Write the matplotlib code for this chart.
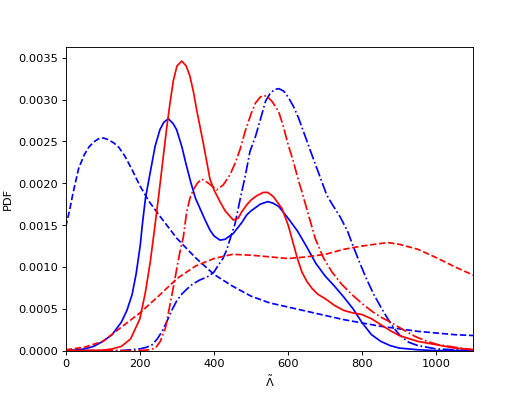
import numpy as np
import matplotlib.pyplot as plt

# blue solid
x_bs = [0, 25, 50, 75, 100, 125, 150, 165, 179, 190, 201, 207, 215, 225, 241, 254, 265, 277, 290, 299,
        313, 325, 338, 350, 362, 375, 389, 400, 416, 430, 452, 475, 488, 500, 525, 545, 560, 575, 600,
        625, 650, 675, 700, 725, 750, 775, 800, 825, 850, 875, 900, 950, 1000, 1100]
y_bs = [0.0, 0.000005, 0.00002, 0.00005, 0.00011, 0.00019, 0.00034, 0.00048, 0.00067, 0.00092, 0.00126,
        0.00152, 0.00182, 0.00206, 0.00244, 0.00264, 0.00273, 0.00277, 0.00271, 0.00264, 0.00244,
        0.00222, 0.00200, 0.00182, 0.00170, 0.00157, 0.00144, 0.00137, 0.00132, 0.00133, 0.00140,
        0.00153, 0.00162, 0.00167, 0.00175, 0.00178, 0.00176, 0.00172, 0.00158, 0.00143, 0.00124,
        0.00104, 0.00089, 0.00077, 0.00064, 0.00050, 0.00033, 0.00019, 0.00011, 0.00006, 0.00003,
        0.00001, 0.0, 0.0]

# blue dashed
x_bd = [0, 10, 20, 35, 50, 62, 75, 88, 102, 115, 130, 143, 160, 179, 200, 225, 255, 300, 350, 400, 450,
        500, 550, 600, 650, 700, 750, 800, 850, 900, 950, 1000, 1050, 1100]
y_bd = [0.00148, 0.00167, 0.00189, 0.00218, 0.00234, 0.00243, 0.00249, 0.00253, 0.00254, 0.00252,
        0.00248, 0.00243, 0.00232, 0.00216, 0.00197, 0.00178, 0.00160, 0.00134, 0.00111, 0.00091,
        0.00077, 0.00065, 0.00057, 0.00052, 0.00047, 0.00042, 0.00037, 0.00033, 0.00029, 0.00026,
        0.00023, 0.00021, 0.00019, 0.00018]

# blue dash-dot
x_bdd = [0, 150, 200, 218, 233, 247, 260, 273, 287, 300, 314, 328, 341, 360, 386, 400, 413, 424, 434,
         446, 457, 470, 484, 497, 512, 525, 539, 551, 563, 575, 588, 600, 614, 628, 646, 664, 684, 704,
         720, 740, 760, 776, 794, 810, 830, 850, 866, 885, 902, 925, 950, 1000, 1100]
y_bdd = [0.0, 0.0, 0.00002, 0.00004, 0.00007, 0.00014, 0.00023, 0.00035, 0.00049, 0.00060, 0.00068,
         0.00074, 0.00079, 0.00084, 0.00089, 0.00094, 0.00103, 0.00110, 0.00120, 0.00137, 0.00152,
         0.00180, 0.00208, 0.00238, 0.00256, 0.00276, 0.00298, 0.00307, 0.00312, 0.00313, 0.00310,
         0.00303, 0.00292, 0.00278, 0.00256, 0.00234, 0.00210, 0.00186, 0.00174, 0.00160, 0.00143,
         0.00124, 0.00104, 0.00087, 0.00068, 0.00052, 0.00040, 0.00027, 0.00018, 0.00010, 0.00006,
         0.00002, 0.0]

# red solid
x_rs = [0, 50, 100, 125, 150, 175, 200, 215, 228, 240, 251, 260, 272, 281, 290, 300, 313, 325, 335,
        345, 353, 362, 371, 389, 400, 416, 430, 452, 465, 475, 488, 500, 515, 533, 545, 560, 583, 600,
        610, 625, 637, 650, 665, 681, 700, 725, 750, 775, 800, 825, 850, 875, 900, 950, 1000, 1050, 1100]
y_rs = [0.0, 0.0, 0.000005, 0.00002, 0.00005, 0.00014, 0.00038, 0.00070, 0.00106, 0.00147, 0.00186,
        0.00220, 0.00265, 0.00295, 0.00322, 0.00340, 0.00346, 0.00340, 0.00328, 0.00308, 0.00288,
        0.00268, 0.00248, 0.00205, 0.00192, 0.00178, 0.00167, 0.00156, 0.00158, 0.00166, 0.00174,
        0.00180, 0.00185, 0.00189, 0.00189, 0.00184, 0.00170, 0.00150, 0.00134, 0.00110, 0.00094,
        0.00083, 0.00074, 0.00067, 0.00062, 0.00054, 0.00048, 0.00045, 0.00043, 0.00038, 0.00031,
        0.00024, 0.00018, 0.00011, 0.00007, 0.00003, 0.00001]

# red dashed
x_rd = [0, 50, 100, 150, 200, 250, 300, 350, 400, 450, 500, 550, 600, 650, 700, 750, 800, 850, 870,
        900, 950, 1000, 1050, 1100]
y_rd = [0.00001, 0.00004, 0.00011, 0.00028, 0.00045, 0.00065, 0.00086, 0.00101, 0.00110, 0.00115,
        0.00114, 0.00112, 0.00110, 0.00112, 0.00115, 0.00121, 0.00125, 0.00128, 0.00129, 0.00127,
        0.00121, 0.00111, 0.00100, 0.00090]

# red dash-dot
x_rdd = [0, 200, 225, 242, 255, 269, 280, 290, 300, 308, 317, 326, 335, 344, 355, 367, 385, 407, 425,
         443, 458, 470, 484, 500, 512, 525, 534, 545, 556, 574, 587, 600, 614, 628, 637, 655, 673, 695,
         718, 745, 772, 800, 826, 850, 880, 910, 942, 975, 1005, 1050, 1100]
y_rdd = [0.0, 0.0, 0.00001, 0.00003, 0.00011, 0.00027, 0.00052, 0.00075, 0.00099, 0.00118, 0.00135,
         0.00165, 0.00182, 0.00192, 0.00200, 0.00205, 0.00200, 0.00192, 0.00198, 0.00210, 0.00225,
         0.00240, 0.00262, 0.00283, 0.00296, 0.00303, 0.00305, 0.00303, 0.00298, 0.00286, 0.00268,
         0.00246, 0.00226, 0.00203, 0.00190, 0.00162, 0.00134, 0.00111, 0.00094, 0.00079, 0.00067,
         0.00056, 0.00047, 0.00040, 0.00033, 0.00025, 0.00017, 0.00011, 0.00007, 0.00004, 0.00001]

fig = plt.figure(figsize=(6.4, 4.8), dpi=82.2)
plt.plot(x_bs, y_bs, 'b-')
plt.plot(x_bd, y_bd, 'b--')
plt.plot(x_bdd, y_bdd, 'b-.')
plt.plot(x_rs, y_rs, 'r-')
plt.plot(x_rd, y_rd, 'r--')
plt.plot(x_rdd, y_rdd, 'r-.')
plt.xlim(0, 1100)
plt.ylim(0, 0.00363)
plt.xlabel(r'$\tilde{\Lambda}$')
plt.ylabel('PDF')
plt.savefig('out.png', dpi=82.2)
